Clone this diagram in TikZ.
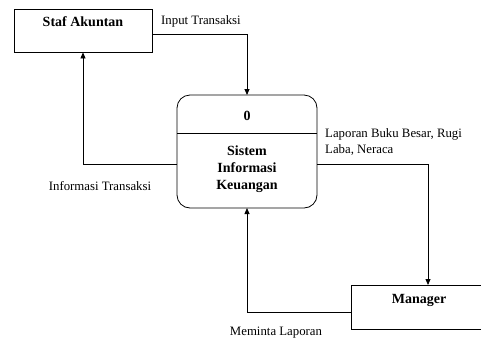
\documentclass[tikz,border=0pt]{standalone}
\usepackage{fontspec}
\setmainfont{Liberation Serif}
\usetikzlibrary{arrows.meta}
\begin{document}
\begin{tikzpicture}[x=1pt,y=-1pt,
  lbl/.style={font=\fontsize{12.8}{16.5}\selectfont, inner sep=0pt},
  ttl/.style={font=\fontsize{14}{16.8}\selectfont\bfseries, inner sep=0pt},
  ent/.style={draw, line width=0.8pt, inner sep=0pt},
  flow/.style={draw, line width=0.8pt, -{Triangle[length=6pt,width=5pt]}}]
\useasboundingbox (0,0) rectangle (481,341);
% entities
\node[ent, minimum width=138pt, minimum height=43pt] (staf) at (83,30.5) {};
\node[ttl] at (83,22) {Staf Akuntan};
\node[ent, minimum width=130pt, minimum height=44pt] (mgr) at (416,307) {};
\node[ttl] at (419,300) {Manager};
% process
\draw[line width=0.8pt, rounded corners=13pt] (177,95) rectangle (317,208);
\coordinate (ptop) at (247,95);
\coordinate (pbot) at (247,208);
\coordinate (pleft) at (177,164);
\coordinate (pright) at (317,164);
\draw[line width=0.8pt] (177,133) -- (317,133);
\node[ttl] (zero) at (247,116) {0};
\node[ttl, align=center] (proc) at (247,169) {Sistem\\Informasi\\Keuangan};
% flows
\coordinate (s1) at (152,34);
\draw[flow] (s1) -| (ptop);
\node[lbl, anchor=west] (l1) at (161,21) {Input Transaksi};
\draw[flow] (pleft) -| (staf.south);
\node[lbl] (l2) at (100,186) {Informasi Transaksi};
\draw[flow] (pright) -| (428,285);
\node[lbl, anchor=north west, align=left] (l3) at (325,128) {Laporan Buku Besar, Rugi\\Laba, Neraca};
\coordinate (m1) at (351,312);
\draw[flow] (m1) -| (pbot);
\node[lbl] (l4) at (276,333) {Meminta Laporan};
\end{tikzpicture}
\end{document}
